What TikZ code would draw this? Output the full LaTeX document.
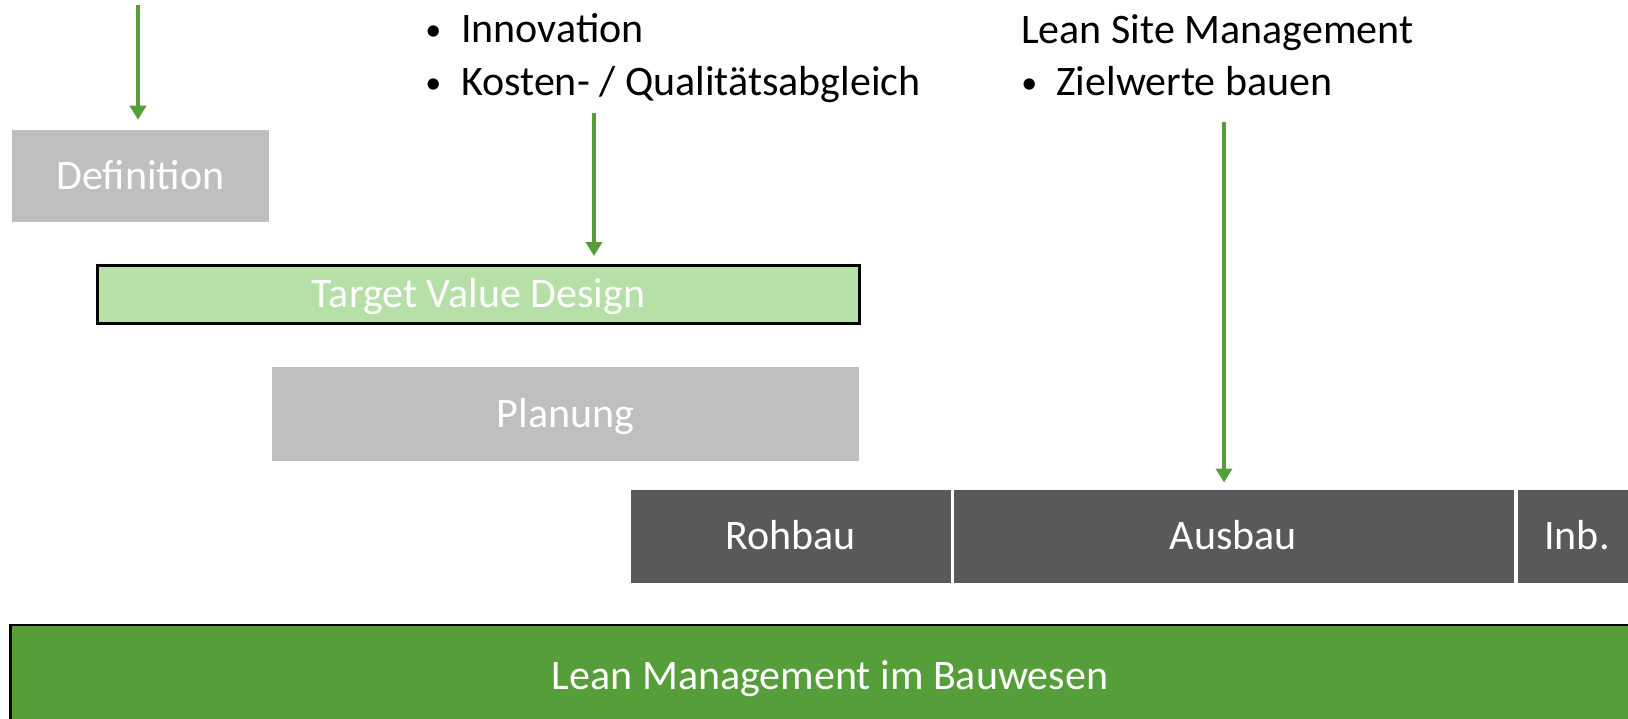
\documentclass[tikz,border=0pt]{standalone}
\usepackage{fontspec}
\setmainfont{Carlito}
\usetikzlibrary{arrows.meta}
\definecolor{boxgray}{HTML}{BFBFBF}
\definecolor{tvdgreen}{HTML}{B7DFA8}
\definecolor{leangreen}{HTML}{559E3A}
\definecolor{darkbg}{HTML}{595959}
\definecolor{arrowgreen}{HTML}{559E3A}
\begin{document}
\begin{tikzpicture}[x=0.75pt,y=-0.75pt,
  every node/.style={font=\fontsize{31.5}{38}\selectfont, inner sep=0pt},
  phase/.style={rectangle, text=white, anchor=center, text height=19.6pt, text depth=0pt},
  graybox/.style={phase, fill=boxgray},
  darkbox/.style={phase, fill=darkbg, draw=white, line width=0.75pt},
  tvdbox/.style={phase, fill=tvdgreen, draw=black, line width=2.25pt},
  leanbox/.style={phase, fill=leangreen, draw=black, line width=1.9pt},
  txt/.style={anchor=base west, text=black},
  bullet/.style={anchor=base west, text=black, font=\fontsize{24}{30}\selectfont},
  arr/.style={draw=arrowgreen, line width=3.2pt, -{Triangle[width=12pt,length=10.5pt]}},
]
\useasboundingbox (0,0) rectangle (1628,718);

% boxes
\node[graybox, minimum width=192.75pt, minimum height=69pt] (def) at (140.5,176) {Definition};
\node[tvdbox, minimum width=571.5pt, minimum height=43.5pt] (tvd) at (478.5,294.5) {Target Value Design};
\node[graybox, minimum width=440.25pt, minimum height=70.5pt] (plan) at (565.5,414) {Planung};
\node[darkbox, minimum width=240.75pt, minimum height=70.5pt] (roh) at (790.5,536) {Rohbau};
\node[darkbox, minimum width=420.75pt, minimum height=70.5pt] (aus) at (1233.5,536) {Ausbau};
\node[darkbox, minimum width=90pt, minimum height=70.5pt] (inb) at (1577,536) {Inb.};
\node[leanbox, minimum width=1229.6pt, minimum height=76.5pt] (lean) at (830,676) {Lean Management im Bauwesen};

% texts
\node[bullet] (bul1) at (425,40) {•};
\node[txt] (inno) at (461,42) {Innovation};
\node[bullet] (bul2) at (425,93) {•};
\node[txt] (kost) at (461,95) {Kosten- / Qualitätsabgleich};
\node[txt] (lsm) at (1021,43) {Lean Site Management};
\node[bullet] (bul3) at (1021,93) {•};
\node[txt] (ziel) at (1056,95) {Zielwerte bauen};

% arrows
\coordinate (a1s) at (138,5);
\coordinate (a2s) at (594,113);
\coordinate (a3s) at (1224,122);
\draw[arr, shorten >=7.5pt] (a1s) -- (a1s |- def.north);
\draw[arr, shorten >=6pt] (a2s) -- (a2s |- tvd.north);
\draw[arr, shorten >=4.5pt] (a3s) -- (a3s |- aus.north);
\end{tikzpicture}
\end{document}
